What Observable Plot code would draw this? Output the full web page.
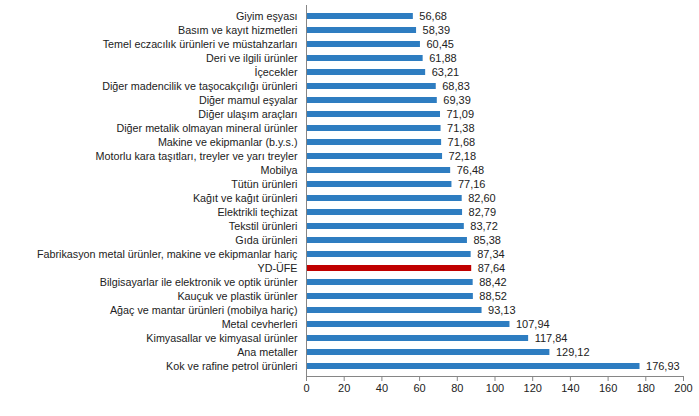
<!DOCTYPE html>
<html>
<head>
<meta charset="utf-8">
<script src="https://cdn.jsdelivr.net/npm/d3@7"></script>
<script src="https://cdn.jsdelivr.net/npm/@observablehq/plot@0.6"></script>
<style>
  html, body { margin: 0; padding: 0; background: #fff; }
  #chart svg { display: block; }
</style>
</head>
<body>
<div id="chart"></div>
<script>
const categories = [
  "Giyim eşyası",
  "Basım ve kayıt hizmetleri",
  "Temel eczacılık ürünleri ve müstahzarları",
  "Deri ve ilgili ürünler",
  "İçecekler",
  "Diğer madencilik ve taşocakçılığı ürünleri",
  "Diğer mamul eşyalar",
  "Diğer ulaşım araçları",
  "Diğer metalik olmayan mineral ürünler",
  "Makine ve ekipmanlar (b.y.s.)",
  "Motorlu kara taşıtları, treyler ve yarı treyler",
  "Mobilya",
  "Tütün ürünleri",
  "Kağıt ve kağıt ürünleri",
  "Elektrikli teçhizat",
  "Tekstil ürünleri",
  "Gıda ürünleri",
  "Fabrikasyon metal ürünler, makine ve ekipmanlar hariç",
  "YD-ÜFE",
  "Bilgisayarlar ile elektronik ve optik ürünler",
  "Kauçuk ve plastik ürünler",
  "Ağaç ve mantar ürünleri (mobilya hariç)",
  "Metal cevherleri",
  "Kimyasallar ve kimyasal ürünler",
  "Ana metaller",
  "Kok ve rafine petrol ürünleri"
];
const values = [56.68, 58.39, 60.45, 61.88, 63.21, 68.83, 69.39, 71.09, 71.38, 71.68, 72.18, 76.48, 77.16, 82.60, 82.79, 83.72, 85.38, 87.34, 87.64, 88.42, 88.52, 93.13, 107.94, 117.84, 129.12, 176.93];
const highlight = "YD-ÜFE";
const xTicks = [0, 20, 40, 60, 80, 100, 120, 140, 160, 180, 200];

const data = categories.map((c, i) => ({name: c, value: values[i], hl: c === highlight}));
const fmt = v => d3.format(".2f")(v).replace(".", ",");

const chart = Plot.plot({
  width: 699,
  height: 416,
  marginLeft: 306,
  marginRight: 16,
  marginTop: 5,
  marginBottom: 40,
  style: {fontFamily: "Arial, 'Liberation Sans', sans-serif", fontSize: "10.75px", color: "#222"},
  x: {domain: [0, 200], ticks: xTicks},
  y: {domain: categories, paddingInner: 0.575, paddingOuter: 0.425},
  marks: [
    Plot.barX(data, {y: "name", x: "value", fill: d => d.hl ? "#C00000" : "#2E7DC1"}),
    Plot.text(data, {y: "name", x: "value", text: d => fmt(d.value), textAnchor: "start", dx: 6, fill: "#222", fontSize: 11}),
    Plot.ruleX([0], {stroke: "#868686"}),
    Plot.frame({anchor: "bottom", stroke: "#868686"}),
    Plot.axisX({ticks: xTicks, tickSize: 5, tickPadding: 3, stroke: "#868686", fill: "#222", fontSize: 11, label: null, tickFormat: d => String(d)}),
    Plot.axisY({tickSize: 0, tickPadding: 9, fill: "#222", fontSize: 10.75, label: null})
  ]
});
document.getElementById("chart").appendChild(chart);
</script>
</body>
</html>
